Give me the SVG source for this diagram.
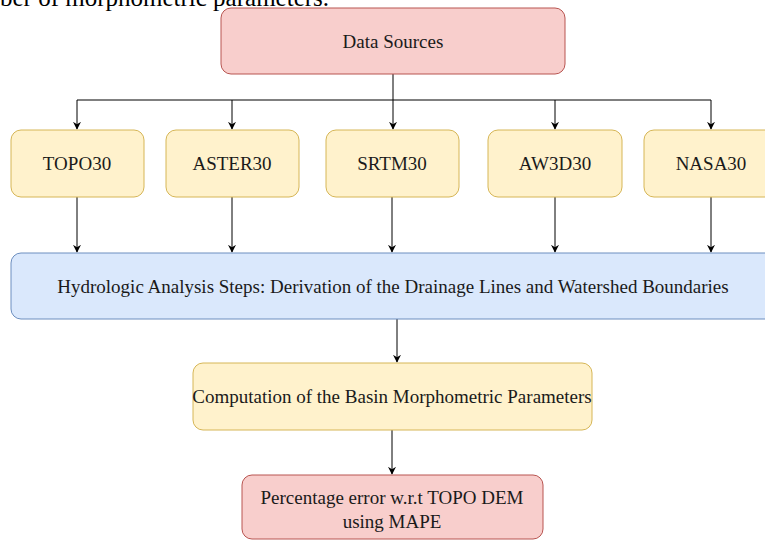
<svg xmlns="http://www.w3.org/2000/svg" width="765" height="540" viewBox="0 0 765 540">
<defs>
<marker id="arr" viewBox="0 0 10 10" refX="9" refY="5" markerWidth="8" markerHeight="8" markerUnits="userSpaceOnUse" orient="auto">
<path d="M0,0 L10,5 L0,10 L3,5 Z" fill="#000"/>
</marker>
<style>
.t{font-family:"Liberation Serif","Times New Roman",serif;font-size:19px;fill:#1a1a1a;text-anchor:middle;dominant-baseline:central}
.red{fill:#f8cecc;stroke:#b85450;stroke-width:1}
.yel{fill:#fff2cc;stroke:#d6b656;stroke-width:1}
.blu{fill:#dae8fc;stroke:#6c8ebf;stroke-width:1}
.c{fill:none;stroke:#000;stroke-width:1}
</style>
</defs>
<rect width="765" height="540" fill="#fff"/>
<text x="0" y="6" style="font-family:'Liberation Serif','Times New Roman',serif;font-size:25px;fill:#000">ber of morphometric parameters.</text>
<g id="connectors">
<path class="c" d="M393,74 V100 M77,100 H711"/>
<path class="c" d="M77,100 V129" marker-end="url(#arr)"/>
<path class="c" d="M232,100 V129" marker-end="url(#arr)"/>
<path class="c" d="M393,100 V129" marker-end="url(#arr)"/>
<path class="c" d="M555,100 V129" marker-end="url(#arr)"/>
<path class="c" d="M711,100 V129" marker-end="url(#arr)"/>
<path class="c" d="M77,197 V252" marker-end="url(#arr)"/>
<path class="c" d="M232,197 V252" marker-end="url(#arr)"/>
<path class="c" d="M392,197 V252" marker-end="url(#arr)"/>
<path class="c" d="M555,197 V252" marker-end="url(#arr)"/>
<path class="c" d="M711,197 V252" marker-end="url(#arr)"/>
<path class="c" d="M397,319 V362" marker-end="url(#arr)"/>
<path class="c" d="M392,430 V474" marker-end="url(#arr)"/>
</g>
<g id="data-sources"><rect class="red" x="221" y="8" width="344" height="66" rx="10"/><text class="t" x="393" y="41">Data Sources</text></g>
<g id="topo30"><rect class="yel" x="11" y="130" width="133" height="67" rx="10"/><text class="t" x="77" y="163">TOPO30</text></g>
<g id="aster30"><rect class="yel" x="166" y="130" width="133" height="67" rx="10"/><text class="t" x="232" y="163">ASTER30</text></g>
<g id="srtm30"><rect class="yel" x="326" y="130" width="133" height="67" rx="10"/><text class="t" x="392" y="163">SRTM30</text></g>
<g id="aw3d30"><rect class="yel" x="488" y="130" width="134" height="67" rx="10"/><text class="t" x="555" y="163">AW3D30</text></g>
<g id="nasa30"><rect class="yel" x="644" y="130" width="134" height="67" rx="10"/><text class="t" x="711" y="163">NASA30</text></g>
<g id="hydrologic"><rect class="blu" x="11" y="253" width="770" height="66" rx="10"/><text class="t" x="393" y="286">Hydrologic Analysis Steps: Derivation of the Drainage Lines and Watershed Boundaries</text></g>
<g id="computation"><rect class="yel" x="193" y="363" width="399" height="67" rx="10"/><text class="t" x="392" y="396">Computation of the Basin Morphometric Parameters</text></g>
<g id="percentage"><rect class="red" x="242" y="475" width="301" height="64" rx="10"/><text class="t" x="392" y="497">Percentage error w.r.t TOPO DEM</text><text class="t" x="392" y="521">using MAPE</text></g>
</svg>
